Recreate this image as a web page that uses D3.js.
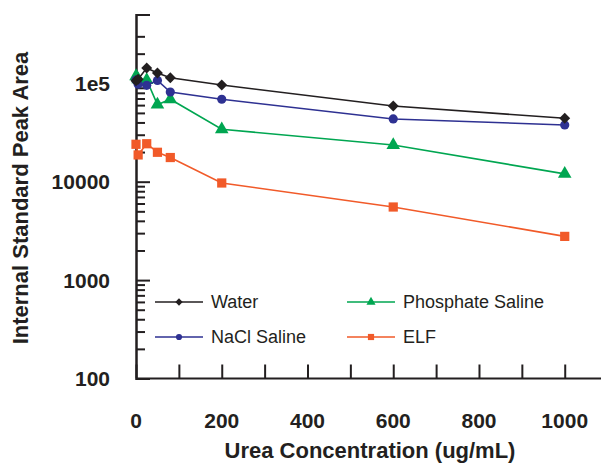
<!DOCTYPE html>
<html>
<head>
<meta charset="utf-8">
<script src="https://cdn.jsdelivr.net/npm/d3@7"></script>
<style>
  body { margin: 0; background: #fff; }
  svg { display: block; font-family: "Liberation Sans", Arial, sans-serif; }
</style>
</head>
<body>
<div id="chart"></div>
<script>
// ── Data ─────────────────────────────────────────────────────────────────────
const concentrations = [0, 5, 25, 50, 80, 200, 600, 1000];
const water = [106000, 110000, 143000, 127000, 114000, 96000, 58800, 44100];
const naclSaline = [108000, 98000, 95400, 107000, 81600, 68800, 43400, 37700];
const phosphateSaline = [118000, 110000, 108000, 60600, 68800, 34100, 23600, 12000];
const elf = [24000, 18700, 24300, 19900, 17600, 9700, 5530, 2780];

const seriesNames = ["Water", "NaCl Saline", "Phosphate Saline", "ELF"];
const xTickLabels = [0, 200, 400, 600, 800, 1000];
const yTickLabels = [[100, "100"], [1000, "1000"], [10000, "10000"], [100000, "1e5"]];

// ── Chart ────────────────────────────────────────────────────────────────────
const width = 601, height = 464;
const svg = d3.select("#chart").append("svg")
  .attr("width", width).attr("height", height);

const x = d3.scaleLinear().domain([0, 1100]).range([136, 607.6]);
const y = d3.scaleLog().domain([100, 500000]).range([378.5, 14.5]);

const ink = "#231f20";

// Axes (ticks drawn inward, like the source)
const xAxis = svg.append("g").attr("transform", `translate(0,${y(100)})`)
  .call(d3.axisTop(x).tickValues(d3.range(0, 1001, 100)).tickSize(14).tickFormat(""));
const yMinor = [];
for (const dec of [100, 1000, 10000, 100000]) {
  for (let k = 2; k <= 9; k++) {
    const v = dec * k;
    if (v <= 500000 && v !== 400000) yMinor.push(v);
  }
}
const yAxisMinor = svg.append("g").attr("transform", `translate(${x(0)},0)`)
  .call(d3.axisRight(y).tickValues(yMinor).tickSize(9).tickFormat(""));
const yAxisMajor = svg.append("g").attr("transform", `translate(${x(0)},0)`)
  .call(d3.axisRight(y).tickValues(yTickLabels.map(d => d[0])).tickSize(14).tickFormat(""));

for (const g of [xAxis, yAxisMinor, yAxisMajor]) {
  g.selectAll("path.domain").attr("stroke", ink).attr("stroke-width", 2);
  g.selectAll(".tick line").attr("stroke", ink).attr("stroke-width", 2);
}
xAxis.select("path.domain").attr("d", `M${x(0)},0H${width}`);

// Tick labels
svg.append("g").selectAll("text").data(xTickLabels).join("text")
  .attr("x", d => x(d)).attr("y", 428)
  .attr("text-anchor", "middle")
  .attr("font-size", "21px").attr("font-weight", "bold").attr("fill", ink)
  .text(d => d);

svg.append("g").selectAll("text").data(yTickLabels).join("text")
  .attr("x", 110).attr("y", d => y(d[0]))
  .attr("dy", "0.36em")
  .attr("text-anchor", "end")
  .attr("font-size", "21px").attr("font-weight", "bold").attr("fill", ink)
  .text(d => d[1]);

// Axis titles
svg.append("text")
  .attr("x", 370).attr("y", 458)
  .attr("text-anchor", "middle")
  .attr("font-size", "22px").attr("font-weight", "bold").attr("fill", ink)
  .text("Urea Concentration (ug/mL)");

svg.append("text")
  .attr("transform", "translate(28,198) rotate(-90)")
  .attr("text-anchor", "middle")
  .attr("font-size", "22px").attr("font-weight", "bold").attr("fill", ink)
  .text("Internal Standard Peak Area");

// Series
const series = [
  { name: seriesNames[0], values: water, color: "#231f20", symbol: d3.symbolSquare, size: 60, rotate: 45 },
  { name: seriesNames[1], values: naclSaline, color: "#2e3192", symbol: d3.symbolCircle, size: 66, rotate: 0 },
  { name: seriesNames[2], values: phosphateSaline, color: "#00a651", symbol: d3.symbolTriangle, size: 80, rotate: 0 },
  { name: seriesNames[3], values: elf, color: "#f15a29", symbol: d3.symbolSquare, size: 85, rotate: 0 },
];

const line = d3.line().x(d => x(d[0])).y(d => y(d[1]));

// Draw in reverse so Water sits on top where it overlaps
for (const s of series.slice().reverse()) {
  const pts = concentrations.map((c, i) => [c, s.values[i]]);
  const g = svg.append("g");
  g.append("path").datum(pts)
    .attr("d", line).attr("fill", "none")
    .attr("stroke", s.color).attr("stroke-width", 1.6);
  g.selectAll("path.m").data(pts).join("path")
    .attr("class", "m")
    .attr("d", d3.symbol(s.symbol, s.size))
    .attr("transform", d => `translate(${x(d[0])},${y(d[1])}) rotate(${s.rotate})`)
    .attr("fill", s.color);
}

// Legend
const legendPos = [[155, 302], [155, 337], [347, 302], [347, 337]];
const legendOrder = [0, 1, 2, 3];
legendOrder.forEach((si, i) => {
  const s = series[si];
  const [lx, ly] = legendPos[i];
  const g = svg.append("g").attr("transform", `translate(${lx},${ly})`);
  g.append("line").attr("x1", 0).attr("x2", 48).attr("y1", 0).attr("y2", 0)
    .attr("stroke", s.color).attr("stroke-width", 1.6);
  g.append("path")
    .attr("d", d3.symbol(s.symbol, s.size * 0.45))
    .attr("transform", `translate(24,0) rotate(${s.rotate})`)
    .attr("fill", s.color);
  g.append("text").attr("x", 56).attr("y", 0).attr("dy", "0.36em")
    .attr("font-size", "18px").attr("fill", ink)
    .text(s.name);
});
</script>
</body>
</html>
